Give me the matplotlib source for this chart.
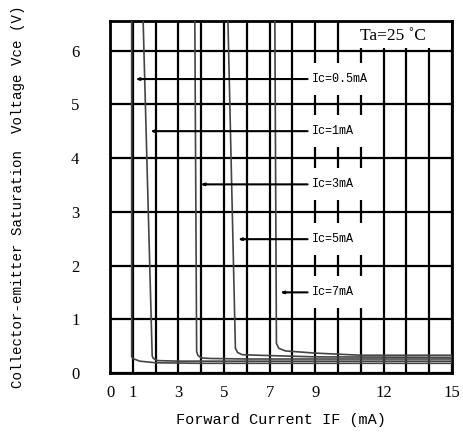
import matplotlib.pyplot as plt
from matplotlib.patches import Rectangle

# Vce(sat) vs IF curves
ic_labels = ["Ic=0.5mA", "Ic=1mA", "Ic=3mA", "Ic=5mA", "Ic=7mA"]

if_05 = [0.95, 0.95, 1.0, 1.3, 2.0, 4.0, 8.0, 15.0]
vce_05 = [6.6, 0.30, 0.27, 0.22, 0.19, 0.18, 0.18, 0.18]

if_1 = [1.45, 1.85, 1.9, 2.1, 3.0, 6.0, 15.0]
vce_1 = [6.6, 0.32, 0.27, 0.23, 0.22, 0.22, 0.22]

if_3 = [3.72, 3.8, 3.85, 4.0, 4.4, 6.0, 10.0, 15.0]
vce_3 = [6.6, 0.40, 0.33, 0.28, 0.27, 0.26, 0.26, 0.26]

if_5 = [5.17, 5.5, 5.6, 5.8, 6.5, 9.0, 15.0]
vce_5 = [6.6, 0.46, 0.38, 0.34, 0.33, 0.30, 0.29]

if_7 = [7.23, 7.3, 7.4, 7.7, 9.0, 11.0, 15.0]
vce_7 = [6.6, 0.55, 0.46, 0.41, 0.37, 0.33, 0.33]

# where each label's arrow points (IF, Vce)
arrow_if = [1.1, 1.75, 3.95, 5.6, 7.45]
label_vce = [5.47, 4.5, 3.51, 2.49, 1.5]

x_ticks = list(range(16))
x_tick_labels = ["0", "1", "", "3", "", "5", "", "7", "", "9", "", "", "12", "", "", "15"]
y_ticks = [0, 1, 2, 3, 4, 5, 6]

fig = plt.figure(figsize=(4.63, 4.34), dpi=100)
ax = fig.add_axes([0.2376, 0.1406, 0.7386, 0.811])

ax.set_xlim(0, 15)
ax.set_ylim(0, 6.55)
ax.set_xticks(x_ticks)
ax.set_xticklabels(x_tick_labels, family="Liberation Serif", fontsize=12)
ax.set_yticks(y_ticks)
ax.set_yticklabels([str(v) for v in y_ticks], family="Liberation Serif", fontsize=12)
ax.tick_params(axis="x", length=0, pad=9)
ax.tick_params(axis="y", length=0, pad=22)

ax.set_axisbelow(True)
ax.grid(True, color="black", linewidth=1.6)
for s in ax.spines.values():
    s.set_linewidth(2)

curves = [(if_05, vce_05), (if_1, vce_1), (if_3, vce_3), (if_5, vce_5), (if_7, vce_7)]
for xs, ys in curves:
    ax.plot(xs, ys, color="#444444", linewidth=1.2, zorder=4, clip_on=True)

# white boxes behind the labels (they hide the grid)
for y in label_vce:
    ax.add_patch(Rectangle((8.72, y - 0.3), 2.65, 0.6, facecolor="white",
                           edgecolor="none", zorder=2))
ax.add_patch(Rectangle((10.6, 6.04), 4.35, 0.49, facecolor="white",
                       edgecolor="none", zorder=2))
ax.text(12.4, 6.27, "Ta=25 ˚C", family="Liberation Serif", fontsize=12.5,
        ha="center", va="center", zorder=5)

for lab, ax_if, y in zip(ic_labels, arrow_if, label_vce):
    ax.annotate(lab, xy=(ax_if, y), xytext=(8.85, y), ha="left", va="center",
                family="Liberation Mono", fontsize=8.5, zorder=5,
                arrowprops=dict(arrowstyle="-|>,head_length=0.2,head_width=0.07",
                                color="black", linewidth=1.5, shrinkA=1, shrinkB=0))

ax.set_xlabel("Forward Current IF (mA)", family="Liberation Mono", fontsize=11, labelpad=8)
ax.set_ylabel("Collector-emitter Saturation  Voltage Vce (V)", family="Liberation Mono",
              fontsize=10.2, labelpad=33)

plt.savefig("out.png", dpi=100)
